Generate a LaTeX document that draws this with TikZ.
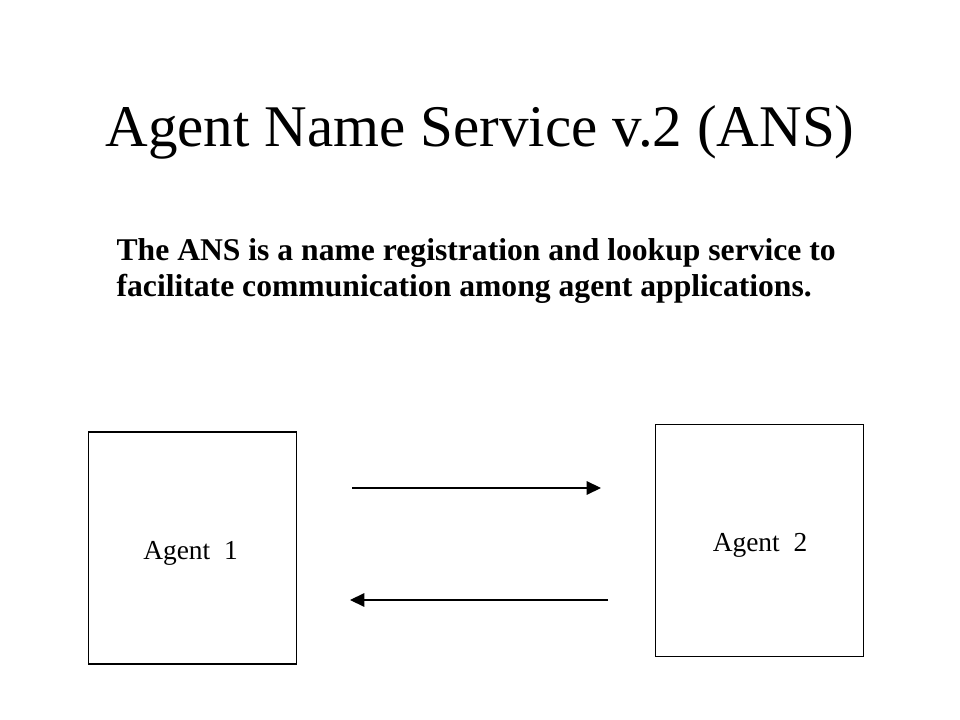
\documentclass[tikz,border=0pt]{standalone}
\usepackage{fontspec}
\setmainfont{Liberation Serif}
\usetikzlibrary{arrows.meta}

\begin{document}
\begin{tikzpicture}[x=0.025cm, y=-0.025cm, line width=0.85pt,
        agentbox/.style={draw, minimum width=5.2cm, minimum height=5.8cm},
        agentlabel/.style={anchor=base, inner sep=0pt, font=\fontsize{19.5}{22}\selectfont},
        msg/.style={-{Triangle[length=0.36cm, width=0.34cm]}}]
        \useasboundingbox (0, 0) rectangle (960, 720);
        % title and description
        \node[anchor=base, inner sep=0pt] (title) at (480, 147) {\fontsize{42}{48}\selectfont Agent Name Service v.2 (ANS)};
        \node[anchor=base west, inner sep=0pt, align=left, font=\fontsize{22.5}{26.2}\selectfont\bfseries] (desc) at (116, 297)
            {The ANS is a name registration and lookup service to\\facilitate communication among agent applications.};
        % the two agents
        \node[agentbox] (A1) at (192.5, 548) {};
        \node[agentbox] (A2) at (759.5, 540.5) {};
        \node[agentlabel] (A1lbl) at (190.5, 560) {Agent\ \ 1};
        \node[agentlabel] (A2lbl) at (760, 552) {Agent\ \ 2};
        \coordinate (reqS) at (352, 488); \coordinate (reqE) at (601, 488);
        \coordinate (repS) at (608, 600); \coordinate (repE) at (350, 600);
        \draw[msg] (reqS) to (reqE);
        \draw[msg] (repS) to (repE);
    \end{tikzpicture}
\end{document}
